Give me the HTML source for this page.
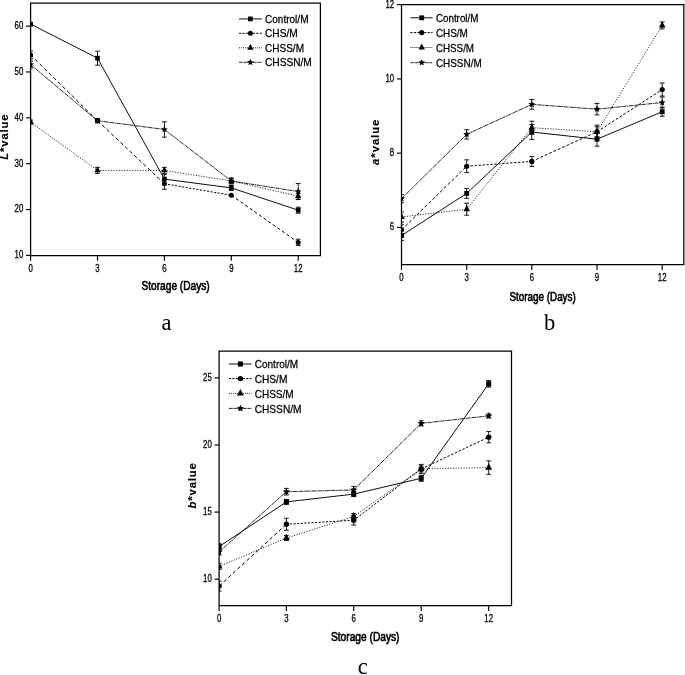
<!DOCTYPE html>
<html><head><meta charset="utf-8"><title>Figure</title>
<style>html,body{margin:0;padding:0;background:#fff;}svg{display:block;filter:grayscale(1);}</style></head>
<body>
<svg width="685" height="675" viewBox="0 0 685 675">
<rect width="685" height="675" fill="#fff"/>
<clipPath id="clipa"><rect x="30.6" y="2.7" width="290.29999999999995" height="253.3"/></clipPath>
<g clip-path="url(#clipa)">
<path d="M30.60 24.12L97.50 58.16L164.40 179.14L231.30 187.88L298.20 210.19" fill="none" stroke="#000" stroke-width="0.95"/>
<path d="M30.60 54.94L97.50 120.72" fill="none" stroke="#000" stroke-width="1.0" stroke-dasharray="3.73 2.66"/>
<path d="M97.50 120.72L164.40 183.74" fill="none" stroke="#000" stroke-width="1.0" stroke-dasharray="3.67 2.62"/>
<path d="M164.40 183.74L231.30 195.24" fill="none" stroke="#000" stroke-width="1.0" stroke-dasharray="2.10 1.50"/>
<path d="M231.30 195.24L298.20 242.39" fill="none" stroke="#000" stroke-width="1.0" stroke-dasharray="3.29 2.35"/>
<path d="M30.60 122.10L97.50 170.40" fill="none" stroke="#000" stroke-width="0.85" stroke-dasharray="1.15 1.50"/>
<path d="M97.50 170.40L164.40 170.40" fill="none" stroke="#000" stroke-width="0.85" stroke-dasharray="1.15 1.50"/>
<path d="M164.40 170.40L231.30 180.98" fill="none" stroke="#000" stroke-width="0.85" stroke-dasharray="1.15 1.50"/>
<path d="M231.30 180.98L298.20 196.16" fill="none" stroke="#000" stroke-width="0.85" stroke-dasharray="1.15 1.50"/>
<path d="M30.60 64.60L97.50 120.72" fill="none" stroke="#000" stroke-width="0.85" stroke-dasharray="4.20 0.50 1.20 0.50"/>
<path d="M97.50 120.72L164.40 129.46" fill="none" stroke="#000" stroke-width="0.85" stroke-dasharray="4.20 0.50 1.20 0.50"/>
<path d="M164.40 129.46L231.30 180.98" fill="none" stroke="#000" stroke-width="0.85" stroke-dasharray="4.20 0.50 1.20 0.50"/>
<path d="M231.30 180.98L298.20 191.56" fill="none" stroke="#000" stroke-width="0.85" stroke-dasharray="4.20 0.50 1.20 0.50"/>
<path d="M30.60 22.62V25.62M28.20 22.62H33.00M28.20 25.62H33.00" fill="none" stroke="#000" stroke-width="0.9"/>
<path d="M97.50 51.16V65.16M95.10 51.16H99.90M95.10 65.16H99.90" fill="none" stroke="#000" stroke-width="0.9"/>
<path d="M164.40 174.64V183.64M162.00 174.64H166.80M162.00 183.64H166.80" fill="none" stroke="#000" stroke-width="0.9"/>
<path d="M231.30 185.38V190.38M228.90 185.38H233.70M228.90 190.38H233.70" fill="none" stroke="#000" stroke-width="0.9"/>
<path d="M298.20 207.19V213.19M295.80 207.19H300.60M295.80 213.19H300.60" fill="none" stroke="#000" stroke-width="0.9"/>
<rect x="28.25" y="21.77" width="4.70" height="4.70"/>
<rect x="95.15" y="55.81" width="4.70" height="4.70"/>
<rect x="162.05" y="176.79" width="4.70" height="4.70"/>
<rect x="228.95" y="185.53" width="4.70" height="4.70"/>
<rect x="295.85" y="207.84" width="4.70" height="4.70"/>
<path d="M30.60 50.94V58.94M28.20 50.94H33.00M28.20 58.94H33.00" fill="none" stroke="#000" stroke-width="0.9"/>
<path d="M97.50 118.72V122.72M95.10 118.72H99.90M95.10 122.72H99.90" fill="none" stroke="#000" stroke-width="0.9"/>
<path d="M164.40 178.24V189.24M162.00 178.24H166.80M162.00 189.24H166.80" fill="none" stroke="#000" stroke-width="0.9"/>
<path d="M298.20 239.19V245.59M295.80 239.19H300.60M295.80 245.59H300.60" fill="none" stroke="#000" stroke-width="0.9"/>
<circle cx="30.60" cy="54.94" r="2.50"/>
<circle cx="97.50" cy="120.72" r="2.50"/>
<circle cx="164.40" cy="183.74" r="2.50"/>
<circle cx="231.30" cy="195.24" r="2.50"/>
<circle cx="298.20" cy="242.39" r="2.50"/>
<path d="M30.60 120.10V124.10M28.20 120.10H33.00M28.20 124.10H33.00" fill="none" stroke="#000" stroke-width="0.9"/>
<path d="M97.50 167.40V173.40M95.10 167.40H99.90M95.10 173.40H99.90" fill="none" stroke="#000" stroke-width="0.9"/>
<path d="M164.40 167.40V173.40M162.00 167.40H166.80M162.00 173.40H166.80" fill="none" stroke="#000" stroke-width="0.9"/>
<path d="M231.30 178.48V183.48M228.90 178.48H233.70M228.90 183.48H233.70" fill="none" stroke="#000" stroke-width="0.9"/>
<path d="M298.20 193.16V199.16M295.80 193.16H300.60M295.80 199.16H300.60" fill="none" stroke="#000" stroke-width="0.9"/>
<path d="M30.60 118.10L33.75 124.00L27.45 124.00Z"/>
<path d="M97.50 166.40L100.65 172.30L94.35 172.30Z"/>
<path d="M164.40 166.40L167.55 172.30L161.25 172.30Z"/>
<path d="M231.30 176.98L234.45 182.88L228.15 182.88Z"/>
<path d="M298.20 192.16L301.35 198.06L295.05 198.06Z"/>
<path d="M30.60 61.10V68.10M28.20 61.10H33.00M28.20 68.10H33.00" fill="none" stroke="#000" stroke-width="0.9"/>
<path d="M97.50 118.72V122.72M95.10 118.72H99.90M95.10 122.72H99.90" fill="none" stroke="#000" stroke-width="0.9"/>
<path d="M164.40 121.76V137.16M162.00 121.76H166.80M162.00 137.16H166.80" fill="none" stroke="#000" stroke-width="0.9"/>
<path d="M231.30 177.98V183.98M228.90 177.98H233.70M228.90 183.98H233.70" fill="none" stroke="#000" stroke-width="0.9"/>
<path d="M298.20 183.56V199.56M295.80 183.56H300.60M295.80 199.56H300.60" fill="none" stroke="#000" stroke-width="0.9"/>
<path d="M30.60 61.10L31.54 63.31L33.93 63.52L32.12 65.09L32.66 67.43L30.60 66.20L28.54 67.43L29.08 65.09L27.27 63.52L29.66 63.31Z"/>
<path d="M97.50 117.22L98.44 119.43L100.83 119.64L99.02 121.21L99.56 123.55L97.50 122.32L95.44 123.55L95.98 121.21L94.17 119.64L96.56 119.43Z"/>
<path d="M164.40 125.96L165.34 128.17L167.73 128.38L165.92 129.95L166.46 132.29L164.40 131.06L162.34 132.29L162.88 129.95L161.07 128.38L163.46 128.17Z"/>
<path d="M231.30 177.48L232.24 179.69L234.63 179.90L232.82 181.47L233.36 183.81L231.30 182.58L229.24 183.81L229.78 181.47L227.97 179.90L230.36 179.69Z"/>
<path d="M298.20 188.06L299.14 190.27L301.53 190.48L299.72 192.05L300.26 194.39L298.20 193.16L296.14 194.39L296.68 192.05L294.87 190.48L297.26 190.27Z"/>
</g>
<path d="M30.6 3.2H320.4V255.5H30.6Z" fill="none" stroke="#000" stroke-width="1.25"/>
<path d="M26.00 255.40H30.6" stroke="#000" stroke-width="1.15" fill="none"/>
<text transform="translate(23.30 258.30) scale(0.7600 1)" font-family="Liberation Sans, sans-serif" font-size="10.3" text-anchor="end" font-weight="normal" font-style="normal" stroke="#000" stroke-width="0.3">10</text>
<path d="M26.00 209.54H30.6" stroke="#000" stroke-width="1.15" fill="none"/>
<text transform="translate(23.30 212.44) scale(0.7600 1)" font-family="Liberation Sans, sans-serif" font-size="10.3" text-anchor="end" font-weight="normal" font-style="normal" stroke="#000" stroke-width="0.3">20</text>
<path d="M26.00 163.68H30.6" stroke="#000" stroke-width="1.15" fill="none"/>
<text transform="translate(23.30 166.58) scale(0.7600 1)" font-family="Liberation Sans, sans-serif" font-size="10.3" text-anchor="end" font-weight="normal" font-style="normal" stroke="#000" stroke-width="0.3">30</text>
<path d="M26.00 117.82H30.6" stroke="#000" stroke-width="1.15" fill="none"/>
<text transform="translate(23.30 120.72) scale(0.7600 1)" font-family="Liberation Sans, sans-serif" font-size="10.3" text-anchor="end" font-weight="normal" font-style="normal" stroke="#000" stroke-width="0.3">40</text>
<path d="M26.00 71.96H30.6" stroke="#000" stroke-width="1.15" fill="none"/>
<text transform="translate(23.30 74.86) scale(0.7600 1)" font-family="Liberation Sans, sans-serif" font-size="10.3" text-anchor="end" font-weight="normal" font-style="normal" stroke="#000" stroke-width="0.3">50</text>
<path d="M26.00 26.10H30.6" stroke="#000" stroke-width="1.15" fill="none"/>
<text transform="translate(23.30 29.00) scale(0.7600 1)" font-family="Liberation Sans, sans-serif" font-size="10.3" text-anchor="end" font-weight="normal" font-style="normal" stroke="#000" stroke-width="0.3">60</text>
<path d="M30.60 255.5V260.70" stroke="#000" stroke-width="1.15" fill="none"/>
<text transform="translate(30.60 271.70) scale(0.7600 1)" font-family="Liberation Sans, sans-serif" font-size="10.3" text-anchor="middle" font-weight="normal" font-style="normal" stroke="#000" stroke-width="0.3">0</text>
<path d="M97.50 255.5V260.70" stroke="#000" stroke-width="1.15" fill="none"/>
<text transform="translate(97.50 271.70) scale(0.7600 1)" font-family="Liberation Sans, sans-serif" font-size="10.3" text-anchor="middle" font-weight="normal" font-style="normal" stroke="#000" stroke-width="0.3">3</text>
<path d="M164.40 255.5V260.70" stroke="#000" stroke-width="1.15" fill="none"/>
<text transform="translate(164.40 271.70) scale(0.7600 1)" font-family="Liberation Sans, sans-serif" font-size="10.3" text-anchor="middle" font-weight="normal" font-style="normal" stroke="#000" stroke-width="0.3">6</text>
<path d="M231.30 255.5V260.70" stroke="#000" stroke-width="1.15" fill="none"/>
<text transform="translate(231.30 271.70) scale(0.7600 1)" font-family="Liberation Sans, sans-serif" font-size="10.3" text-anchor="middle" font-weight="normal" font-style="normal" stroke="#000" stroke-width="0.3">9</text>
<path d="M298.20 255.5V260.70" stroke="#000" stroke-width="1.15" fill="none"/>
<text transform="translate(298.20 271.70) scale(0.7600 1)" font-family="Liberation Sans, sans-serif" font-size="10.3" text-anchor="middle" font-weight="normal" font-style="normal" stroke="#000" stroke-width="0.3">12</text>
<path d="M239.00 18.90L261.80 18.90" fill="none" stroke="#000" stroke-width="0.95"/>
<rect x="248.05" y="16.55" width="4.70" height="4.70"/>
<text x="265.00" y="23.00" font-family="Liberation Sans, sans-serif" font-size="11.8" textLength="43.50" lengthAdjust="spacingAndGlyphs" stroke="#000" stroke-width="0.28">Control/M</text>
<path d="M239.00 33.30L261.80 33.30" fill="none" stroke="#000" stroke-width="1.0" stroke-dasharray="2.2 1.25"/>
<circle cx="250.40" cy="33.30" r="2.50"/>
<text x="265.00" y="37.40" font-family="Liberation Sans, sans-serif" font-size="11.8" textLength="32.70" lengthAdjust="spacingAndGlyphs" stroke="#000" stroke-width="0.28">CHS/M</text>
<path d="M239.00 47.80L261.80 47.80" fill="none" stroke="#000" stroke-width="0.85" stroke-dasharray="1 1"/>
<path d="M250.40 43.80L253.55 49.70L247.25 49.70Z"/>
<text x="265.00" y="51.90" font-family="Liberation Sans, sans-serif" font-size="11.8" textLength="39.00" lengthAdjust="spacingAndGlyphs" stroke="#000" stroke-width="0.28">CHSS/M</text>
<path d="M239.00 62.30L261.80 62.30" fill="none" stroke="#000" stroke-width="0.85" stroke-dasharray="3 0.4 0.9 0.4"/>
<path d="M250.40 58.80L251.34 61.01L253.73 61.22L251.92 62.79L252.46 65.13L250.40 63.90L248.34 65.13L248.88 62.79L247.07 61.22L249.46 61.01Z"/>
<text x="265.00" y="66.40" font-family="Liberation Sans, sans-serif" font-size="11.8" textLength="46.80" lengthAdjust="spacingAndGlyphs" stroke="#000" stroke-width="0.28">CHSSN/M</text>
<text transform="translate(8.00 137.10) rotate(-90)" font-family="Liberation Sans, sans-serif" font-size="11.3" font-weight="bold" text-anchor="middle" textLength="45.3" lengthAdjust="spacing" stroke="#000" stroke-width="0.15"><tspan font-style="italic">L</tspan>*value</text>
<text x="141.50" y="290.00" font-family="Liberation Sans, sans-serif" font-size="12.0" textLength="68.20" lengthAdjust="spacingAndGlyphs" stroke="#000" stroke-width="0.6">Storage (Days)</text>
<text x="166.60" y="330.00" font-family="Liberation Serif, serif" font-size="22.5" text-anchor="middle">a</text>
<clipPath id="clipb"><rect x="401.5" y="4.2" width="282.79999999999995" height="261.0"/></clipPath>
<g clip-path="url(#clipb)">
<path d="M401.50 235.51L466.70 193.41L531.80 132.01L597.00 139.19L662.20 111.77" fill="none" stroke="#000" stroke-width="0.95"/>
<path d="M401.50 229.85L466.70 166.24" fill="none" stroke="#000" stroke-width="1.0" stroke-dasharray="3.15 2.25"/>
<path d="M466.70 166.24L531.80 161.42" fill="none" stroke="#000" stroke-width="1.0" stroke-dasharray="2.31 1.65"/>
<path d="M531.80 161.42L597.00 131.78" fill="none" stroke="#000" stroke-width="1.0" stroke-dasharray="2.78 1.99"/>
<path d="M597.00 131.78L662.20 89.54" fill="none" stroke="#000" stroke-width="1.0" stroke-dasharray="2.62 1.88"/>
<path d="M401.50 216.99L466.70 209.22" fill="none" stroke="#000" stroke-width="0.85" stroke-dasharray="1.15 1.50"/>
<path d="M466.70 209.22L531.80 127.71" fill="none" stroke="#000" stroke-width="0.85" stroke-dasharray="1.15 1.50"/>
<path d="M531.80 127.71L597.00 131.78" fill="none" stroke="#000" stroke-width="0.85" stroke-dasharray="1.15 1.50"/>
<path d="M597.00 131.78L662.20 25.45" fill="none" stroke="#000" stroke-width="0.85" stroke-dasharray="1.15 1.50"/>
<path d="M401.50 198.66L466.70 134.38" fill="none" stroke="#000" stroke-width="0.85" stroke-dasharray="4.20 0.50 1.20 0.50"/>
<path d="M466.70 134.38L531.80 104.36" fill="none" stroke="#000" stroke-width="0.85" stroke-dasharray="4.20 0.50 1.20 0.50"/>
<path d="M531.80 104.36L597.00 109.18" fill="none" stroke="#000" stroke-width="0.85" stroke-dasharray="4.20 0.50 1.20 0.50"/>
<path d="M597.00 109.18L662.20 102.51" fill="none" stroke="#000" stroke-width="0.85" stroke-dasharray="4.20 0.50 1.20 0.50"/>
<path d="M401.50 230.51V240.51M399.10 230.51H403.90M399.10 240.51H403.90" fill="none" stroke="#000" stroke-width="0.9"/>
<path d="M466.70 188.51V198.31M464.30 188.51H469.10M464.30 198.31H469.10" fill="none" stroke="#000" stroke-width="0.9"/>
<path d="M531.80 124.51V139.51M529.40 124.51H534.20M529.40 139.51H534.20" fill="none" stroke="#000" stroke-width="0.9"/>
<path d="M597.00 132.19V146.19M594.60 132.19H599.40M594.60 146.19H599.40" fill="none" stroke="#000" stroke-width="0.9"/>
<path d="M662.20 107.27V116.27M659.80 107.27H664.60M659.80 116.27H664.60" fill="none" stroke="#000" stroke-width="0.9"/>
<rect x="399.08" y="233.09" width="4.84" height="4.84"/>
<rect x="464.28" y="190.99" width="4.84" height="4.84"/>
<rect x="529.38" y="129.59" width="4.84" height="4.84"/>
<rect x="594.58" y="136.77" width="4.84" height="4.84"/>
<rect x="659.78" y="109.35" width="4.84" height="4.84"/>
<path d="M401.50 224.85V234.85M399.10 224.85H403.90M399.10 234.85H403.90" fill="none" stroke="#000" stroke-width="0.9"/>
<path d="M466.70 159.84V172.64M464.30 159.84H469.10M464.30 172.64H469.10" fill="none" stroke="#000" stroke-width="0.9"/>
<path d="M531.80 156.42V166.42M529.40 156.42H534.20M529.40 166.42H534.20" fill="none" stroke="#000" stroke-width="0.9"/>
<path d="M597.00 126.78V136.78M594.60 126.78H599.40M594.60 136.78H599.40" fill="none" stroke="#000" stroke-width="0.9"/>
<path d="M662.20 83.04V96.04M659.80 83.04H664.60M659.80 96.04H664.60" fill="none" stroke="#000" stroke-width="0.9"/>
<circle cx="401.50" cy="229.85" r="2.58"/>
<circle cx="466.70" cy="166.24" r="2.58"/>
<circle cx="531.80" cy="161.42" r="2.58"/>
<circle cx="597.00" cy="131.78" r="2.58"/>
<circle cx="662.20" cy="89.54" r="2.58"/>
<path d="M401.50 211.99V221.99M399.10 211.99H403.90M399.10 221.99H403.90" fill="none" stroke="#000" stroke-width="0.9"/>
<path d="M466.70 203.22V215.22M464.30 203.22H469.10M464.30 215.22H469.10" fill="none" stroke="#000" stroke-width="0.9"/>
<path d="M531.80 121.21V134.21M529.40 121.21H534.20M529.40 134.21H534.20" fill="none" stroke="#000" stroke-width="0.9"/>
<path d="M597.00 125.08V138.48M594.60 125.08H599.40M594.60 138.48H599.40" fill="none" stroke="#000" stroke-width="0.9"/>
<path d="M662.20 21.95V28.95M659.80 21.95H664.60M659.80 28.95H664.60" fill="none" stroke="#000" stroke-width="0.9"/>
<path d="M401.50 212.87L404.74 218.94L398.26 218.94Z"/>
<path d="M466.70 205.10L469.94 211.17L463.46 211.17Z"/>
<path d="M531.80 123.59L535.04 129.66L528.56 129.66Z"/>
<path d="M597.00 127.66L600.24 133.74L593.76 133.74Z"/>
<path d="M662.20 21.33L665.44 27.41L658.96 27.41Z"/>
<path d="M401.50 194.66V202.66M399.10 194.66H403.90M399.10 202.66H403.90" fill="none" stroke="#000" stroke-width="0.9"/>
<path d="M466.70 129.68V139.07M464.30 129.68H469.10M464.30 139.07H469.10" fill="none" stroke="#000" stroke-width="0.9"/>
<path d="M531.80 99.46V109.26M529.40 99.46H534.20M529.40 109.26H534.20" fill="none" stroke="#000" stroke-width="0.9"/>
<path d="M597.00 103.48V114.88M594.60 103.48H599.40M594.60 114.88H599.40" fill="none" stroke="#000" stroke-width="0.9"/>
<path d="M662.20 97.01V108.01M659.80 97.01H664.60M659.80 108.01H664.60" fill="none" stroke="#000" stroke-width="0.9"/>
<path d="M401.50 195.06L402.47 197.33L404.93 197.55L403.07 199.17L403.62 201.58L401.50 200.31L399.38 201.58L399.93 199.17L398.07 197.55L400.53 197.33Z"/>
<path d="M466.70 130.77L467.67 133.04L470.13 133.26L468.27 134.88L468.82 137.29L466.70 136.02L464.58 137.29L465.13 134.88L463.27 133.26L465.73 133.04Z"/>
<path d="M531.80 100.76L532.77 103.03L535.23 103.25L533.37 104.87L533.92 107.28L531.80 106.01L529.68 107.28L530.23 104.87L528.37 103.25L530.83 103.03Z"/>
<path d="M597.00 105.58L597.97 107.85L600.43 108.07L598.57 109.69L599.12 112.10L597.00 110.83L594.88 112.10L595.43 109.69L593.57 108.07L596.03 107.85Z"/>
<path d="M662.20 98.91L663.17 101.18L665.63 101.40L663.77 103.02L664.32 105.43L662.20 104.16L660.08 105.43L660.63 103.02L658.77 101.40L661.23 101.18Z"/>
</g>
<path d="M401.5 4.7H683.8V264.7H401.5Z" fill="none" stroke="#000" stroke-width="1.25"/>
<path d="M396.90 227.40H401.5" stroke="#000" stroke-width="1.15" fill="none"/>
<text transform="translate(394.20 230.30) scale(0.7600 1)" font-family="Liberation Sans, sans-serif" font-size="10.3" text-anchor="end" font-weight="normal" font-style="normal" stroke="#000" stroke-width="0.3">6</text>
<path d="M396.90 153.16H401.5" stroke="#000" stroke-width="1.15" fill="none"/>
<text transform="translate(394.20 156.06) scale(0.7600 1)" font-family="Liberation Sans, sans-serif" font-size="10.3" text-anchor="end" font-weight="normal" font-style="normal" stroke="#000" stroke-width="0.3">8</text>
<path d="M396.90 78.92H401.5" stroke="#000" stroke-width="1.15" fill="none"/>
<text transform="translate(394.20 81.82) scale(0.7600 1)" font-family="Liberation Sans, sans-serif" font-size="10.3" text-anchor="end" font-weight="normal" font-style="normal" stroke="#000" stroke-width="0.3">10</text>
<path d="M396.90 4.68H401.5" stroke="#000" stroke-width="1.15" fill="none"/>
<text transform="translate(394.20 7.58) scale(0.7600 1)" font-family="Liberation Sans, sans-serif" font-size="10.3" text-anchor="end" font-weight="normal" font-style="normal" stroke="#000" stroke-width="0.3">12</text>
<path d="M401.50 264.7V269.90" stroke="#000" stroke-width="1.15" fill="none"/>
<text transform="translate(401.50 280.90) scale(0.7600 1)" font-family="Liberation Sans, sans-serif" font-size="10.3" text-anchor="middle" font-weight="normal" font-style="normal" stroke="#000" stroke-width="0.3">0</text>
<path d="M466.70 264.7V269.90" stroke="#000" stroke-width="1.15" fill="none"/>
<text transform="translate(466.70 280.90) scale(0.7600 1)" font-family="Liberation Sans, sans-serif" font-size="10.3" text-anchor="middle" font-weight="normal" font-style="normal" stroke="#000" stroke-width="0.3">3</text>
<path d="M531.80 264.7V269.90" stroke="#000" stroke-width="1.15" fill="none"/>
<text transform="translate(531.80 280.90) scale(0.7600 1)" font-family="Liberation Sans, sans-serif" font-size="10.3" text-anchor="middle" font-weight="normal" font-style="normal" stroke="#000" stroke-width="0.3">6</text>
<path d="M597.00 264.7V269.90" stroke="#000" stroke-width="1.15" fill="none"/>
<text transform="translate(597.00 280.90) scale(0.7600 1)" font-family="Liberation Sans, sans-serif" font-size="10.3" text-anchor="middle" font-weight="normal" font-style="normal" stroke="#000" stroke-width="0.3">9</text>
<path d="M662.20 264.7V269.90" stroke="#000" stroke-width="1.15" fill="none"/>
<text transform="translate(662.20 280.90) scale(0.7600 1)" font-family="Liberation Sans, sans-serif" font-size="10.3" text-anchor="middle" font-weight="normal" font-style="normal" stroke="#000" stroke-width="0.3">12</text>
<path d="M410.40 17.80L432.60 17.80" fill="none" stroke="#000" stroke-width="0.95"/>
<rect x="419.28" y="15.38" width="4.84" height="4.84"/>
<text x="435.90" y="21.90" font-family="Liberation Sans, sans-serif" font-size="11.8" textLength="42.54" lengthAdjust="spacingAndGlyphs" stroke="#000" stroke-width="0.28">Control/M</text>
<path d="M410.40 32.60L432.60 32.60" fill="none" stroke="#000" stroke-width="1.0" stroke-dasharray="2.2 1.25"/>
<circle cx="421.70" cy="32.60" r="2.58"/>
<text x="435.90" y="36.70" font-family="Liberation Sans, sans-serif" font-size="11.8" textLength="31.98" lengthAdjust="spacingAndGlyphs" stroke="#000" stroke-width="0.28">CHS/M</text>
<path d="M410.40 47.50L432.60 47.50" fill="none" stroke="#000" stroke-width="0.85" stroke-dasharray="1 1"/>
<path d="M421.70 43.38L424.94 49.46L418.46 49.46Z"/>
<text x="435.90" y="51.60" font-family="Liberation Sans, sans-serif" font-size="11.8" textLength="38.14" lengthAdjust="spacingAndGlyphs" stroke="#000" stroke-width="0.28">CHSS/M</text>
<path d="M410.40 62.70L432.60 62.70" fill="none" stroke="#000" stroke-width="0.85" stroke-dasharray="3 0.4 0.9 0.4"/>
<path d="M421.70 59.10L422.67 61.37L425.13 61.59L423.27 63.21L423.82 65.62L421.70 64.35L419.58 65.62L420.13 63.21L418.27 61.59L420.73 61.37Z"/>
<text x="435.90" y="66.80" font-family="Liberation Sans, sans-serif" font-size="11.8" textLength="45.77" lengthAdjust="spacingAndGlyphs" stroke="#000" stroke-width="0.28">CHSSN/M</text>
<text transform="translate(379.30 142.30) rotate(-90)" font-family="Liberation Sans, sans-serif" font-size="11.3" font-weight="bold" text-anchor="middle" textLength="45.3" lengthAdjust="spacing" stroke="#000" stroke-width="0.15"><tspan font-style="italic">a</tspan>*value</text>
<text x="509.40" y="300.60" font-family="Liberation Sans, sans-serif" font-size="12.0" textLength="66.40" lengthAdjust="spacingAndGlyphs" stroke="#000" stroke-width="0.6">Storage (Days)</text>
<text x="549.50" y="330.00" font-family="Liberation Serif, serif" font-size="22.5" text-anchor="middle">b</text>
<clipPath id="clipc"><rect x="219.1" y="350.7" width="292.9" height="255.50000000000006"/></clipPath>
<g clip-path="url(#clipc)">
<path d="M219.10 546.64L286.40 501.88L353.70 494.11L421.20 478.30L488.70 383.83" fill="none" stroke="#000" stroke-width="0.95"/>
<path d="M219.10 586.10L286.40 524.26" fill="none" stroke="#000" stroke-width="1.0" stroke-dasharray="3.64 2.60"/>
<path d="M286.40 524.26L353.70 520.24" fill="none" stroke="#000" stroke-width="1.0" stroke-dasharray="2.10 1.50"/>
<path d="M353.70 520.24L421.20 468.92" fill="none" stroke="#000" stroke-width="1.0" stroke-dasharray="2.16 1.54"/>
<path d="M421.20 468.92L488.70 437.16" fill="none" stroke="#000" stroke-width="1.0" stroke-dasharray="2.42 1.72"/>
<path d="M219.10 566.40L286.40 538.06" fill="none" stroke="#000" stroke-width="0.85" stroke-dasharray="1.15 1.50"/>
<path d="M286.40 538.06L353.70 516.49" fill="none" stroke="#000" stroke-width="0.85" stroke-dasharray="1.15 1.50"/>
<path d="M353.70 516.49L421.20 468.92" fill="none" stroke="#000" stroke-width="0.85" stroke-dasharray="1.15 1.50"/>
<path d="M421.20 468.92L488.70 467.58" fill="none" stroke="#000" stroke-width="0.85" stroke-dasharray="1.15 1.50"/>
<path d="M219.10 552.00L286.40 491.70" fill="none" stroke="#000" stroke-width="0.85" stroke-dasharray="4.20 0.50 1.20 0.50"/>
<path d="M286.40 491.70L353.70 489.96" fill="none" stroke="#000" stroke-width="0.85" stroke-dasharray="4.20 0.50 1.20 0.50"/>
<path d="M353.70 489.96L421.20 423.36" fill="none" stroke="#000" stroke-width="0.85" stroke-dasharray="4.20 0.50 1.20 0.50"/>
<path d="M421.20 423.36L488.70 415.86" fill="none" stroke="#000" stroke-width="0.85" stroke-dasharray="4.20 0.50 1.20 0.50"/>
<path d="M219.10 543.64V549.64M216.70 543.64H221.50M216.70 549.64H221.50" fill="none" stroke="#000" stroke-width="0.9"/>
<path d="M286.40 499.38V504.38M284.00 499.38H288.80M284.00 504.38H288.80" fill="none" stroke="#000" stroke-width="0.9"/>
<path d="M353.70 491.61V496.61M351.30 491.61H356.10M351.30 496.61H356.10" fill="none" stroke="#000" stroke-width="0.9"/>
<path d="M421.20 475.30V481.30M418.80 475.30H423.60M418.80 481.30H423.60" fill="none" stroke="#000" stroke-width="0.9"/>
<path d="M488.70 380.53V387.13M486.30 380.53H491.10M486.30 387.13H491.10" fill="none" stroke="#000" stroke-width="0.9"/>
<rect x="216.56" y="544.10" width="5.08" height="5.08"/>
<rect x="283.86" y="499.35" width="5.08" height="5.08"/>
<rect x="351.16" y="491.57" width="5.08" height="5.08"/>
<rect x="418.66" y="475.76" width="5.08" height="5.08"/>
<rect x="486.16" y="381.29" width="5.08" height="5.08"/>
<path d="M219.10 581.10V591.10M216.70 581.10H221.50M216.70 591.10H221.50" fill="none" stroke="#000" stroke-width="0.9"/>
<path d="M286.40 518.26V530.26M284.00 518.26H288.80M284.00 530.26H288.80" fill="none" stroke="#000" stroke-width="0.9"/>
<path d="M353.70 515.44V525.04M351.30 515.44H356.10M351.30 525.04H356.10" fill="none" stroke="#000" stroke-width="0.9"/>
<path d="M421.20 464.42V473.42M418.80 464.42H423.60M418.80 473.42H423.60" fill="none" stroke="#000" stroke-width="0.9"/>
<path d="M488.70 431.56V442.76M486.30 431.56H491.10M486.30 442.76H491.10" fill="none" stroke="#000" stroke-width="0.9"/>
<circle cx="219.10" cy="586.10" r="2.70"/>
<circle cx="286.40" cy="524.26" r="2.70"/>
<circle cx="353.70" cy="520.24" r="2.70"/>
<circle cx="421.20" cy="468.92" r="2.70"/>
<circle cx="488.70" cy="437.16" r="2.70"/>
<path d="M219.10 563.40V569.40M216.70 563.40H221.50M216.70 569.40H221.50" fill="none" stroke="#000" stroke-width="0.9"/>
<path d="M286.40 535.56V540.56M284.00 535.56H288.80M284.00 540.56H288.80" fill="none" stroke="#000" stroke-width="0.9"/>
<path d="M353.70 513.49V519.49M351.30 513.49H356.10M351.30 519.49H356.10" fill="none" stroke="#000" stroke-width="0.9"/>
<path d="M421.20 465.92V471.92M418.80 465.92H423.60M418.80 471.92H423.60" fill="none" stroke="#000" stroke-width="0.9"/>
<path d="M488.70 460.88V474.28M486.30 460.88H491.10M486.30 474.28H491.10" fill="none" stroke="#000" stroke-width="0.9"/>
<path d="M219.10 562.08L222.50 568.45L215.70 568.45Z"/>
<path d="M286.40 533.74L289.80 540.12L283.00 540.12Z"/>
<path d="M353.70 512.17L357.10 518.54L350.30 518.54Z"/>
<path d="M421.20 464.60L424.60 470.97L417.80 470.97Z"/>
<path d="M488.70 463.26L492.10 469.63L485.30 469.63Z"/>
<path d="M219.10 549.00V555.00M216.70 549.00H221.50M216.70 555.00H221.50" fill="none" stroke="#000" stroke-width="0.9"/>
<path d="M286.40 488.40V495.00M284.00 488.40H288.80M284.00 495.00H288.80" fill="none" stroke="#000" stroke-width="0.9"/>
<path d="M353.70 486.46V493.46M351.30 486.46H356.10M351.30 493.46H356.10" fill="none" stroke="#000" stroke-width="0.9"/>
<path d="M421.20 420.86V425.86M418.80 420.86H423.60M418.80 425.86H423.60" fill="none" stroke="#000" stroke-width="0.9"/>
<path d="M488.70 413.86V417.86M486.30 413.86H491.10M486.30 417.86H491.10" fill="none" stroke="#000" stroke-width="0.9"/>
<path d="M219.10 548.22L220.12 550.60L222.69 550.83L220.74 552.53L221.32 555.06L219.10 553.73L216.88 555.06L217.46 552.53L215.51 550.83L218.08 550.60Z"/>
<path d="M286.40 487.92L287.42 490.30L289.99 490.53L288.04 492.23L288.62 494.76L286.40 493.43L284.18 494.76L284.76 492.23L282.81 490.53L285.38 490.30Z"/>
<path d="M353.70 486.18L354.72 488.56L357.29 488.79L355.34 490.49L355.92 493.02L353.70 491.69L351.48 493.02L352.06 490.49L350.11 488.79L352.68 488.56Z"/>
<path d="M421.20 419.58L422.22 421.96L424.79 422.19L422.84 423.89L423.42 426.42L421.20 425.09L418.98 426.42L419.56 423.89L417.61 422.19L420.18 421.96Z"/>
<path d="M488.70 412.08L489.72 414.46L492.29 414.69L490.34 416.39L490.92 418.91L488.70 417.58L486.48 418.91L487.06 416.39L485.11 414.69L487.68 414.46Z"/>
</g>
<path d="M219.1 351.2H511.5V605.7H219.1Z" fill="none" stroke="#000" stroke-width="1.25"/>
<path d="M214.50 579.20H219.1" stroke="#000" stroke-width="1.15" fill="none"/>
<text transform="translate(211.80 582.10) scale(0.7600 1)" font-family="Liberation Sans, sans-serif" font-size="10.3" text-anchor="end" font-weight="normal" font-style="normal" stroke="#000" stroke-width="0.3">10</text>
<path d="M214.50 512.10H219.1" stroke="#000" stroke-width="1.15" fill="none"/>
<text transform="translate(211.80 515.00) scale(0.7600 1)" font-family="Liberation Sans, sans-serif" font-size="10.3" text-anchor="end" font-weight="normal" font-style="normal" stroke="#000" stroke-width="0.3">15</text>
<path d="M214.50 445.00H219.1" stroke="#000" stroke-width="1.15" fill="none"/>
<text transform="translate(211.80 447.90) scale(0.7600 1)" font-family="Liberation Sans, sans-serif" font-size="10.3" text-anchor="end" font-weight="normal" font-style="normal" stroke="#000" stroke-width="0.3">20</text>
<path d="M214.50 377.90H219.1" stroke="#000" stroke-width="1.15" fill="none"/>
<text transform="translate(211.80 380.80) scale(0.7600 1)" font-family="Liberation Sans, sans-serif" font-size="10.3" text-anchor="end" font-weight="normal" font-style="normal" stroke="#000" stroke-width="0.3">25</text>
<path d="M219.10 605.7V610.90" stroke="#000" stroke-width="1.15" fill="none"/>
<text transform="translate(219.10 621.90) scale(0.7600 1)" font-family="Liberation Sans, sans-serif" font-size="10.3" text-anchor="middle" font-weight="normal" font-style="normal" stroke="#000" stroke-width="0.3">0</text>
<path d="M286.40 605.7V610.90" stroke="#000" stroke-width="1.15" fill="none"/>
<text transform="translate(286.40 621.90) scale(0.7600 1)" font-family="Liberation Sans, sans-serif" font-size="10.3" text-anchor="middle" font-weight="normal" font-style="normal" stroke="#000" stroke-width="0.3">3</text>
<path d="M353.70 605.7V610.90" stroke="#000" stroke-width="1.15" fill="none"/>
<text transform="translate(353.70 621.90) scale(0.7600 1)" font-family="Liberation Sans, sans-serif" font-size="10.3" text-anchor="middle" font-weight="normal" font-style="normal" stroke="#000" stroke-width="0.3">6</text>
<path d="M421.20 605.7V610.90" stroke="#000" stroke-width="1.15" fill="none"/>
<text transform="translate(421.20 621.90) scale(0.7600 1)" font-family="Liberation Sans, sans-serif" font-size="10.3" text-anchor="middle" font-weight="normal" font-style="normal" stroke="#000" stroke-width="0.3">9</text>
<path d="M488.70 605.7V610.90" stroke="#000" stroke-width="1.15" fill="none"/>
<text transform="translate(488.70 621.90) scale(0.7600 1)" font-family="Liberation Sans, sans-serif" font-size="10.3" text-anchor="middle" font-weight="normal" font-style="normal" stroke="#000" stroke-width="0.3">12</text>
<path d="M228.90 364.00L251.60 364.00" fill="none" stroke="#000" stroke-width="0.95"/>
<rect x="237.86" y="361.46" width="5.08" height="5.08"/>
<text x="254.70" y="368.10" font-family="Liberation Sans, sans-serif" font-size="11.8" textLength="43.50" lengthAdjust="spacingAndGlyphs" stroke="#000" stroke-width="0.28">Control/M</text>
<path d="M228.90 378.60L251.60 378.60" fill="none" stroke="#000" stroke-width="1.0" stroke-dasharray="2.2 1.25"/>
<circle cx="240.40" cy="378.60" r="2.70"/>
<text x="254.70" y="382.70" font-family="Liberation Sans, sans-serif" font-size="11.8" textLength="32.70" lengthAdjust="spacingAndGlyphs" stroke="#000" stroke-width="0.28">CHS/M</text>
<path d="M228.90 393.40L251.60 393.40" fill="none" stroke="#000" stroke-width="0.85" stroke-dasharray="1 1"/>
<path d="M240.40 389.08L243.80 395.45L237.00 395.45Z"/>
<text x="254.70" y="397.50" font-family="Liberation Sans, sans-serif" font-size="11.8" textLength="39.00" lengthAdjust="spacingAndGlyphs" stroke="#000" stroke-width="0.28">CHSS/M</text>
<path d="M228.90 408.40L251.60 408.40" fill="none" stroke="#000" stroke-width="0.85" stroke-dasharray="3 0.4 0.9 0.4"/>
<path d="M240.40 404.62L241.42 407.00L243.99 407.23L242.04 408.93L242.62 411.46L240.40 410.13L238.18 411.46L238.76 408.93L236.81 407.23L239.38 407.00Z"/>
<text x="254.70" y="412.50" font-family="Liberation Sans, sans-serif" font-size="11.8" textLength="46.80" lengthAdjust="spacingAndGlyphs" stroke="#000" stroke-width="0.28">CHSSN/M</text>
<text transform="translate(196.30 485.80) rotate(-90)" font-family="Liberation Sans, sans-serif" font-size="11.3" font-weight="bold" text-anchor="middle" textLength="45.3" lengthAdjust="spacing" stroke="#000" stroke-width="0.15"><tspan font-style="italic">b</tspan>*value</text>
<text x="331.00" y="641.20" font-family="Liberation Sans, sans-serif" font-size="12.0" textLength="68.50" lengthAdjust="spacingAndGlyphs" stroke="#000" stroke-width="0.6">Storage (Days)</text>
<text x="362.70" y="674.00" font-family="Liberation Serif, serif" font-size="22.5" text-anchor="middle">c</text>
</svg>
</body></html>
